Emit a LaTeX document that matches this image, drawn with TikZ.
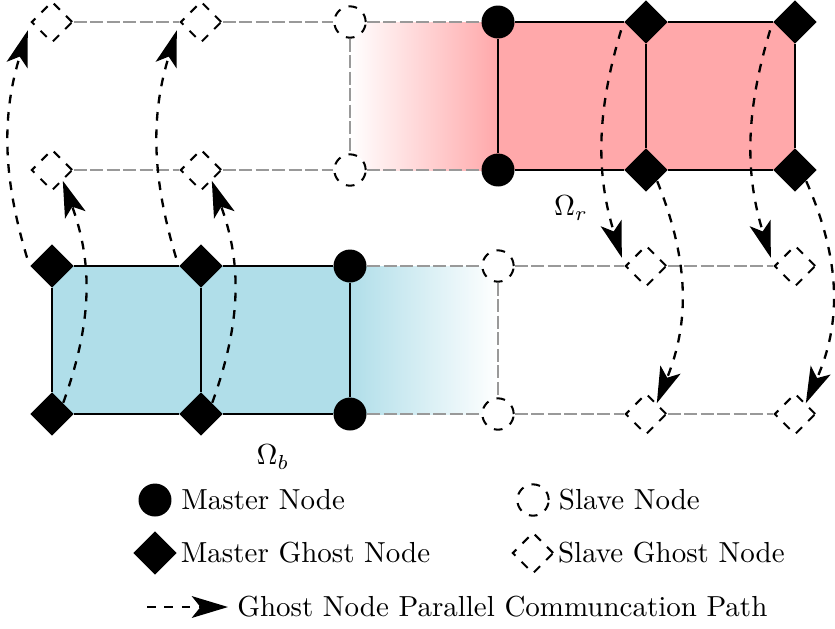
\documentclass[tikz,border=0pt]{standalone}
\usetikzlibrary{shapes.geometric,arrows.meta,backgrounds}
\definecolor{pinkc}{RGB}{255,168,170}
\definecolor{bluec}{RGB}{176,222,233}
\begin{document}
\begin{tikzpicture}[x=0.01213cm,y=-0.01213cm,
 ms/.style={circle,fill=black,inner sep=0pt,minimum size=0.40cm},
 mgh/.style={diamond,fill=black,inner sep=0pt,minimum size=0.53cm},
 sl/.style={circle,draw,dashed,fill=white,line width=0.7pt,inner sep=0pt,minimum size=0.38cm},
 sgh/.style={diamond,draw,dashed,fill=white,line width=0.7pt,inner sep=0pt,minimum size=0.50cm},
 gline/.style={draw=black!40,line width=0.6pt,dash pattern=on 4.5pt off 1.2pt},
 bline/.style={draw=black,line width=0.8pt},
 comm/.style={dashed,line width=0.8pt,-{Stealth[length=12.5pt,width=7.5pt,inset=3pt]}},
 lbl/.style={inner sep=3pt,anchor=west}
]
\useasboundingbox (0,0) rectangle (835,628);
% top rows
\node[sgh] (t1) at (52,22) {};
\node[sgh] (t2) at (201,22) {};
\node[sl]  (t3) at (350,22) {};
\node[ms]  (t4) at (498,22) {};
\node[mgh] (t5) at (646,22) {};
\node[mgh] (t6) at (795,22) {};
\node[sgh] (u1) at (52,170) {};
\node[sgh] (u2) at (201,170) {};
\node[sl]  (u3) at (350,170) {};
\node[ms]  (u4) at (498,170) {};
\node[mgh] (u5) at (646,170) {};
\node[mgh] (u6) at (795,170) {};
% bottom rows
\node[mgh] (v1) at (52,266) {};
\node[mgh] (v2) at (201,266) {};
\node[ms]  (v3) at (350,266) {};
\node[sl]  (v4) at (498,266) {};
\node[sgh] (v5) at (646,266) {};
\node[sgh] (v6) at (795,266) {};
\node[mgh] (w1) at (52,414) {};
\node[mgh] (w2) at (201,414) {};
\node[ms]  (w3) at (350,414) {};
\node[sl]  (w4) at (498,414) {};
\node[sgh] (w5) at (646,414) {};
\node[sgh] (w6) at (795,414) {};
% fills
\begin{scope}[on background layer]
\fill[pinkc] (t4.center) rectangle (u6.center);
\shade[left color=white,right color=pinkc] (t3.center) rectangle (u4.center);
\fill[bluec] (v1.center) rectangle (w3.center);
\shade[left color=bluec,right color=white] (v3.center) rectangle (w4.center);
\end{scope}
% gray dashed lines
\draw[gline] (t1) -- (t2) -- (t3) -- (t4);
\draw[gline] (u1) -- (u2) -- (u3) -- (u4);
\draw[gline] (t3) -- (u3);
\draw[gline] (v3) -- (v4) -- (v5) -- (v6);
\draw[gline] (w3) -- (w4) -- (w5) -- (w6);
\draw[gline] (v4) -- (w4);
% black lines
\draw[bline] (t4) -- (t5) -- (t6) -- (u6) -- (u5) -- (u4) -- (t4);
\draw[bline] (t5) -- (u5);
\draw[bline] (v1) -- (v2) -- (v3) -- (w3) -- (w2) -- (w1) -- (v1);
\draw[bline] (v2) -- (w2);
% communication paths
\draw[comm,shorten <=3pt,shorten >=3pt] (v1.west) to[bend left=17] (t1.west);
\draw[comm] (w1.north east) to[bend right=20] (u1.south east);
\draw[comm,shorten <=3pt,shorten >=3pt] (v2.west) to[bend left=17] (t2.west);
\draw[comm] (w2.north east) to[bend right=20] (u2.south east);
\draw[comm,shorten <=3pt,shorten >=3pt] (t5.west) to[bend right=17] (v5.west);
\draw[comm] (u5.south east) to[bend left=22] (w5.north east);
\draw[comm,shorten <=3pt,shorten >=3pt] (t6.west) to[bend right=17] (v6.west);
\draw[comm] (u6.south east) to[bend left=24] (w6.north east);
% labels
\node (omr) at (571,208) {$\Omega_r$};
\node (omb) at (273,457) {$\Omega_b$};
% legend
\node[ms] (l1) at (155,500) {};
\node[lbl] (l1t) at (l1.east) {Master Node};
\node[sl] (l2) at (533,500) {};
\node[lbl] (l2t) at (l2.east) {Slave Node};
\node[mgh] (l3) at (155,553) {};
\node[lbl,inner sep=1pt] (l3t) at (l3.east) {Master Ghost Node};
\node[sgh] (l4) at (533,553) {};
\node[lbl,inner sep=1pt] (l4t) at (l4.east) {Slave Ghost Node};
\coordinate (la) at (147,607);
\node[lbl] (lt) at (228,607) {Ghost Node Parallel Communcation Path};
\draw[comm] (la) -- (lt.west);
\end{tikzpicture}
\end{document}
